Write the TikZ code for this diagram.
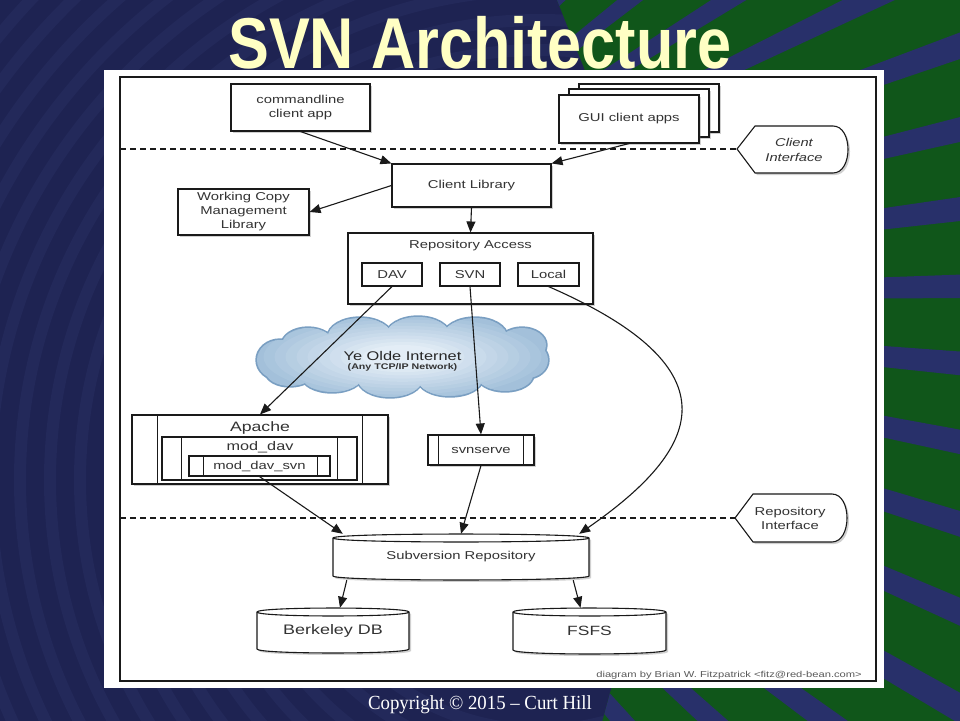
\documentclass[tikz,border=0pt]{standalone}
\usepackage{fontspec}
\usetikzlibrary{arrows.meta,shadows,calc}
\newfontfamily\dfont{Liberation Sans}[FakeStretch=1.3]
\newfontfamily\titlefont{Liberation Sans}[FakeStretch=0.85]
\newfontfamily\cfont{Liberation Serif}[FakeStretch=0.94]
\definecolor{navy}{HTML}{1E2352}
\definecolor{navyarc}{HTML}{23295A}
\definecolor{greenbg}{HTML}{10561A}
\definecolor{stripec}{HTML}{28306A}
\definecolor{titlec}{HTML}{FFFFC4}
\definecolor{linec}{HTML}{1A1A1A}
\definecolor{txtc}{HTML}{333333}
\definecolor{cloudi}{HTML}{E3EDF6}
\definecolor{cloudo}{HTML}{A3C0DA}
\definecolor{cloudb}{HTML}{7A9FC2}
\tikzset{
  shd/.style={drop shadow={shadow xshift=2pt,shadow yshift=-2pt,opacity=.3,fill=black!60}},
  frame/.style={draw=linec, line width=1.1pt, fill=white, inner sep=0pt, align=center, text=txtc, font=\dfont\fontsize{11.4}{14}\selectfont},
  box/.style={frame, shd},
  lbl/.style={inner sep=0pt, text=txtc, align=center, font=\dfont\fontsize{11.4}{14}\selectfont},
  arr/.style={draw=linec, line width=1.1pt, -{Triangle[length=11pt,width=9pt]}},
  sepline/.style={draw=linec, line width=1.1pt, dash pattern=on 6pt off 4pt},
  divider/.style={draw=linec, line width=1.1pt},
  drumshd/.style={fill=black!60, opacity=.3},
  drumbody/.style={fill=white, draw=linec, line width=1.1pt},
}
\def\puffs{(280,360) ellipse[x radius=23, y radius=20]
  (308,345) ellipse[x radius=26, y radius=17]
  (360,337) ellipse[x radius=32, y radius=19]
  (418,336) ellipse[x radius=32, y radius=19]
  (475,337) ellipse[x radius=32, y radius=19]
  (522,345) ellipse[x radius=24, y radius=17]
  (527,360) ellipse[x radius=21, y radius=18]
  (505,375) ellipse[x radius=28, y radius=16]
  (450,379) ellipse[x radius=32, y radius=17]
  (390,379) ellipse[x radius=32, y radius=18]
  (332,376) ellipse[x radius=30, y radius=16]
  (290,372) ellipse[x radius=24, y radius=14]
  (402,357) ellipse[x radius=120, y radius=24]}
\begin{document}
\begin{tikzpicture}[x=1pt,y=-1pt]
\useasboundingbox (0,0) rectangle (960,720);
% ---------- background ----------
\fill[navy] (-10,-10) rectangle (970,730);
\begin{scope}
  \clip (-10,-10) rectangle (970,730);
  \foreach \r in {250,280,...,780} \draw[navyarc, line width=12pt] (540,480) circle[radius=\r];
\end{scope}
\begin{scope}
  \clip (553,-10) -- (970,-10) -- (970,730) -- (600,730) -- (700,360) -- cycle;
  \fill[greenbg] (0,-10) rectangle (970,730);
  \foreach \k in {-8,...,9} {
    \pgfmathsetmacro\a{-1.1+6.2*\k}
    \fill[stripec] (250,300) -- ($(250,300)+(\a-0.95:1500)$) -- ($(250,300)+(\a+0.95:1500)$) -- cycle;
  }
\end{scope}
% ---------- title & footer ----------
\node[text=titlec, font=\titlefont\bfseries\fontsize{72}{72}\selectfont, anchor=base, inner sep=0pt] (title) at (480,68) {SVN Architecture};
\node[text=white, font=\cfont\fontsize{20}{20}\selectfont, anchor=base, inner sep=0pt] (copyr) at (480,709) {Copyright © 2015 – Curt Hill};
% ---------- panel ----------
\fill[white] (104,70) rectangle (884,688);
\draw[linec, line width=1.2pt] (120,77) rectangle (876,681);
% ---------- interface separators ----------
\coordinate (d1a) at (120,149);
\coordinate (d1b) at (737,149);
\coordinate (d2a) at (120,518);
\coordinate (d2b) at (735,518);
\draw[sepline] (d1a) -- (d1b);
\draw[sepline] (d2a) -- (d2b);
\path[drumshd, shift={(2,2)}] (737,149) -- (755,126) -- (833,126) .. controls (853,126) and (853,173) .. (833,173) -- (755,173) -- cycle;
\filldraw[drumbody] (737,149) -- (755,126) -- (833,126) .. controls (853,126) and (853,173) .. (833,173) -- (755,173) -- cycle;
\node[lbl, font=\dfont\itshape\fontsize{11.3}{15}\selectfont] (ci) at (794,149.5) {Client\\Interface};
\path[drumshd, shift={(2,2)}] (735,518) -- (753,494) -- (832,494) .. controls (852,494) and (852,542) .. (832,542) -- (753,542) -- cycle;
\filldraw[drumbody] (735,518) -- (753,494) -- (832,494) .. controls (852,494) and (852,542) .. (832,542) -- (753,542) -- cycle;
\node[lbl, font=\dfont\fontsize{11.4}{13.5}\selectfont] (ri) at (790,518.5) {Repository\\Interface};
% ---------- client side ----------
\node[box, minimum width=139pt, minimum height=47pt] (cmd) at (300.5,107.5) {commandline\\client app};
\node[box, minimum width=140pt, minimum height=48pt] (gui3) at (649,108) {};
\node[box, minimum width=140pt, minimum height=48pt] (gui2) at (639,113) {};
\node[box, minimum width=140pt, minimum height=48pt] (gui) at (629,119) {GUI client apps};
\node[box, minimum width=159pt, minimum height=43pt] (clib) at (471.5,185.5) {Client Library};
\node[box, minimum width=131pt, minimum height=46pt] (wc) at (243.5,212) {Working Copy\\Management\\Library};
\node[box, minimum width=245pt, minimum height=71pt] (ra) at (470.5,268.5) {};
\node[lbl] (ralbl) at (470.5,246) {Repository Access};
\node[frame, minimum width=60pt, minimum height=23pt] (dav) at (392,274.5) {DAV};
\node[frame, minimum width=60pt, minimum height=23pt] (svn) at (470,274.5) {SVN};
\node[frame, minimum width=61pt, minimum height=23pt] (local) at (548.5,274.5) {Local};
% ---------- servers ----------
\node[box, minimum width=256pt, minimum height=69pt] (apache) at (260,449.5) {};
\draw[divider] ([xshift=26pt]apache.north west) -- ([xshift=26pt]apache.south west);
\draw[divider] ([xshift=-26pt]apache.north east) -- ([xshift=-26pt]apache.south east);
\node[lbl, font=\dfont\fontsize{13.6}{15}\selectfont] (apl) at (260,428) {Apache};
\node[frame, minimum width=195pt, minimum height=43pt] (moddav) at (259.5,458.5) {};
\draw[divider] ([xshift=20pt]moddav.north west) -- ([xshift=20pt]moddav.south west);
\draw[divider] ([xshift=-20pt]moddav.north east) -- ([xshift=-20pt]moddav.south east);
\node[lbl, font=\dfont\fontsize{12.5}{14}\selectfont] (mdl) at (260,447.5) {mod\_dav};
\node[frame, minimum width=141pt, minimum height=20pt] (davsvn) at (259.5,466) {mod\_dav\_svn};
\draw[divider] ([xshift=15pt]davsvn.north west) -- ([xshift=15pt]davsvn.south west);
\draw[divider] ([xshift=-13pt]davsvn.north east) -- ([xshift=-13pt]davsvn.south east);
\node[box, minimum width=106pt, minimum height=30pt] (svnserve) at (481,450) {svnserve};
\draw[divider] ([xshift=11pt]svnserve.north west) -- ([xshift=11pt]svnserve.south west);
\draw[divider] ([xshift=-11pt]svnserve.north east) -- ([xshift=-11pt]svnserve.south east);
% ---------- storage drums ----------
\path[drumshd, shift={(2,2)}] (333,538) -- (333,576) .. controls (333,581.3) and (589,581.3) .. (589,576) -- (589,538) .. controls (589,532.7) and (333,532.7) .. (333,538) -- cycle;
\filldraw[drumbody] (333,538) -- (333,576) .. controls (333,581.3) and (589,581.3) .. (589,576) -- (589,538) .. controls (589,532.7) and (333,532.7) .. (333,538) -- cycle;
\draw[linec, line width=1.1pt] (333,538) .. controls (333,543.3) and (589,543.3) .. (589,538);
\node[lbl, minimum width=256pt, minimum height=46pt] (repo) at (461,557) {Subversion Repository};
\path[drumshd, shift={(2,2)}] (257,612) -- (257,649) .. controls (257,654.3) and (409,654.3) .. (409,649) -- (409,612) .. controls (409,606.7) and (257,606.7) .. (257,612) -- cycle;
\filldraw[drumbody] (257,612) -- (257,649) .. controls (257,654.3) and (409,654.3) .. (409,649) -- (409,612) .. controls (409,606.7) and (257,606.7) .. (257,612) -- cycle;
\draw[linec, line width=1.1pt] (257,612) .. controls (257,617.3) and (409,617.3) .. (409,612);
\node[lbl, minimum width=152pt, minimum height=45pt, font=\dfont\fontsize{13.8}{15}\selectfont] (bdb) at (333,630.5) {Berkeley DB};
\path[drumshd, shift={(2,2)}] (513,612) -- (513,650) .. controls (513,655.3) and (666,655.3) .. (666,650) -- (666,612) .. controls (666,606.7) and (513,606.7) .. (513,612) -- cycle;
\filldraw[drumbody] (513,612) -- (513,650) .. controls (513,655.3) and (666,655.3) .. (666,650) -- (666,612) .. controls (666,606.7) and (513,606.7) .. (513,612) -- cycle;
\draw[linec, line width=1.1pt] (513,612) .. controls (513,617.3) and (666,617.3) .. (666,612);
\node[lbl, minimum width=153pt, minimum height=46pt, font=\dfont\fontsize{13.4}{15}\selectfont] (fsfs) at (589.5,631) {FSFS};
% ---------- cloud (stepped radial fill, no shading) ----------
\draw[cloudb, line width=3.4pt] \puffs;
\begin{scope}
  \clip \puffs;
  \fill[cloudo] (402.5,357) ellipse[x radius=170, y radius=60];
  \foreach \i in {1,...,10} {
    \pgfmathsetmacro\pc{\i*10}
    \fill[cloudi!\pc!cloudo] (402.5,357) ellipse[x radius={150-11*\i}, y radius={44-3.2*\i}];
  }
\end{scope}
\path (402.5,357) coordinate (net);
% ---------- connectors ----------
\draw[arr] (cmd.south) -- (clib.north west);
\draw[arr] (gui.south) -- (clib.north east);
\draw[arr] (clib.west) -- (wc.east);
\draw[arr] (clib.south) -- (ra.north);
\draw[arr] (dav.south) -- (apache.north);
\draw[arr] (svn.south) -- (svnserve.north);
\draw[arr] (local.south) .. controls (740,370) and (700,450) .. ([xshift=-10pt]repo.north east);
\draw[arr] (davsvn.south) -- ([xshift=10pt]repo.north west);
\draw[arr] (svnserve.south) -- (repo.north);
\draw[arr] ([xshift=14pt]repo.south west) -- ([xshift=7pt]bdb.north);
\draw[arr] ([xshift=-16pt]repo.south east) -- ([xshift=-9pt]fsfs.north);
% ---------- cloud text ----------
\node[lbl, font=\dfont\fontsize{12.6}{14}\selectfont, text=black!85] (netl) at (402.5,356) {Ye Olde Internet};
\node[lbl, font=\dfont\bfseries\fontsize{8.2}{9}\selectfont, text=black!80] (netl2) at (402.5,367.5) {(Any TCP/IP Network)};
% ---------- credit ----------
\node[anchor=base east, inner sep=0pt, font=\dfont\fontsize{8.6}{9}\selectfont, text=black!65] (credit) at (862,677) {diagram by Brian W. Fitzpatrick <fitz@red-bean.com>};
\end{tikzpicture}
\end{document}
